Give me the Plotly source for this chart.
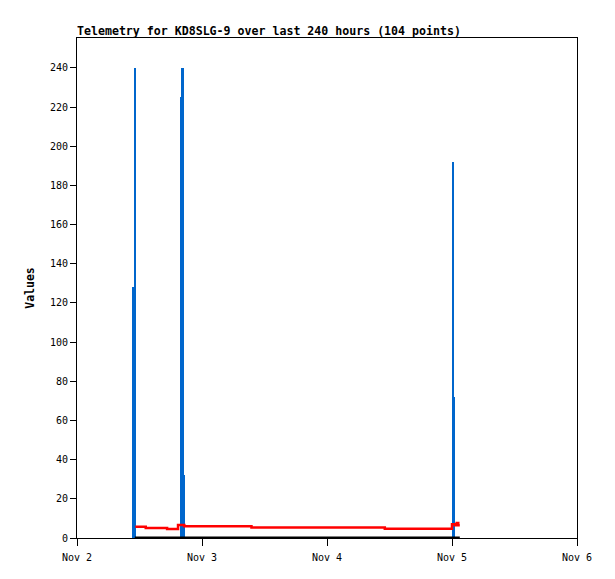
import plotly.graph_objects as go
from datetime import datetime, timedelta

BASE = datetime(2023, 11, 2)

def ts(hours):
    return BASE + timedelta(hours=hours)

# Blue series (impulse bars): hours after Nov 2 00:00, values
blue_hours = [10.75, 11.1, 20.0, 20.3, 20.55, 72.15, 72.4]
blue_values = [128, 240, 225, 240, 32, 192, 72]

# Red series (step line)
red_hours = [11.2, 13.2, 17.3, 19.4, 20.0, 20.6, 33.5, 59.1, 72.0, 72.6, 72.9, 73.2, 73.5]
red_values = [5.8, 5.1, 4.6, 6.6, 6.6, 6.0, 5.3, 4.75, 7.0, 6.5, 7.6, 6.5, 6.5]

# Black series (zero values)
black_hours = [11.1, 73.5]
black_values = [0, 0]

x_ticks = ["2023-11-02", "2023-11-03", "2023-11-04", "2023-11-05", "2023-11-06"]
x_tick_labels = ["Nov 2", "Nov 3", "Nov 4", "Nov 5", "Nov 6"]
y_ticks = list(range(0, 241, 20))

fig = go.Figure()

bar_w_ms = 0.3 * 3600 * 1000
fig.add_trace(go.Bar(
    x=[ts(h) for h in blue_hours], y=blue_values,
    width=[bar_w_ms] * len(blue_hours),
    marker=dict(color="#0066CC", line=dict(width=0)),
    showlegend=False,
))
fig.add_trace(go.Scatter(
    x=[ts(h) for h in red_hours], y=red_values,
    mode="lines", line=dict(color="#FF0000", width=2.5, shape="hv"),
    showlegend=False,
))
fig.add_trace(go.Scatter(
    x=[ts(h) for h in black_hours], y=black_values,
    mode="lines", line=dict(color="#000000", width=3),
    showlegend=False, cliponaxis=False,
))

font_mono = "DejaVu Sans Mono"
fig.update_layout(
    width=615, height=579,
    margin=dict(l=69, r=46, t=30, b=49),
    paper_bgcolor="white", plot_bgcolor="white",
    barmode="overlay", bargap=0,
    title=dict(text="<b>Telemetry for KD8SLG-9 over last 240 hours (104 points)</b>",
               x=69/615, xanchor="left", y=1 - 23/579, yanchor="middle",
               font=dict(family=font_mono, size=11.6, color="black")),
    font=dict(family=font_mono, size=9, color="black"),
    xaxis=dict(
        type="date", range=["2023-11-02", "2023-11-06"],
        tickvals=x_ticks, ticktext=x_tick_labels,
        ticks="outside", ticklen=7, tickcolor="black",
        ticklabelstandoff=3,
        showline=True, linecolor="black", linewidth=1, mirror=True,
        showgrid=False, zeroline=False,
        tickfont=dict(family=font_mono, size=10),
    ),
    yaxis=dict(
        range=[0, 255.3],
        tickvals=y_ticks,
        ticks="outside", ticklen=6, tickcolor="black",
        showline=True, linecolor="black", linewidth=1, mirror=True,
        showgrid=False, zeroline=False,
        tickfont=dict(family=font_mono, size=10),
        title=dict(text="<b>Values</b>", font=dict(family=font_mono, size=11.5), standoff=12),
    ),
)

fig.write_html("out.html")
